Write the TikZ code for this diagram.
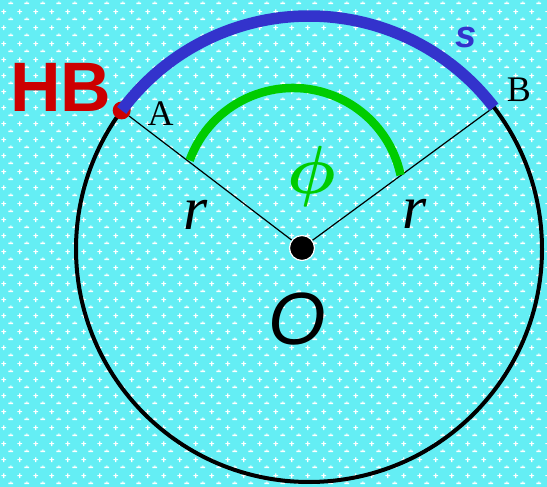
\RequirePackage{fix-cm}
\documentclass[tikz,border=0pt]{standalone}
\usepackage{fontspec}
\usepackage{amsmath}
\newfontfamily\arialf{Liberation Sans}
\newfontfamily\timesf{Liberation Serif}
\usepackage{tikz}
\usetikzlibrary{patterns.meta}
\definecolor{sfondo}{RGB}{100,238,244}
\definecolor{arcoblu}{RGB}{51,51,204}
\definecolor{verde}{RGB}{0,204,0}
\definecolor{rosso}{RGB}{204,0,0}
% trama dello sfondo
\tikzdeclarepattern{
	name=puntini,
	type=uncolored,
	bounding box={(0pt,0pt) and (16pt,16pt)},
	tile size={(16pt,16pt)},
	code={
		\fill (2.5pt,11.5pt) rectangle (7.5pt,12.7pt);
		\fill (4.4pt,9.5pt) rectangle (5.6pt,14.5pt);
		\fill (10pt,3pt) rectangle (15pt,4.6pt);
		\fill (11.5pt,4.6pt) rectangle (13.5pt,5.6pt);
	}
}
\tikzset{
	% cerchio
	cerchio/.style={line width=4pt, black},
	% arco s
	arcos/.style={line width=11.5pt, arcoblu},
	% angolo al centro
	angolo/.style={line width=8.5pt, verde},
	% raggio
	raggio/.style={line width=1.2pt, black},
	% punti
	punto/.style={circle, inner sep=0pt, minimum size=#1},
	% etichette
	lettera/.style={inner sep=0pt, font=\timesf\fontsize{36}{36}\selectfont},
	variabile/.style={inner sep=0pt, font=\timesf\itshape\fontsize{62}{62}\selectfont},
}

\begin{document}
\begin{tikzpicture}[x=1pt, y=1pt]
    \useasboundingbox (0,0) rectangle (547,487);
    % sfondo
    \fill[sfondo] (0,0) rectangle (547,487);
    \fill[pattern=puntini, pattern color=white] (0,0) rectangle (547,487);
    % cerchio e punti
    \coordinate (C) at (309,238);
    \draw[cerchio] (C) circle[radius=233];
    \path (C) ++(143.5:233) coordinate (A);
    \path (C) ++(37.5:233) coordinate (B);
    \node[punto=18pt, fill=rosso] (ptA) at (A) {};
    \node[punto=25pt, fill=black, draw=white, line width=1.2pt] (ctr) at (302,239) {};
    % raggi
    \draw[raggio] (ctr) -- (ptA);
    \draw[raggio] (ctr) -- (B);
    % arco s
    \draw[arcos] (A) arc[start angle=143.5, end angle=37.5, radius=233];
    % angolo
    \draw[angolo] (293,289) ++(160:110) arc[start angle=160, end angle=12, radius=110];
    % etichette
    \node[inner sep=0pt, text=rosso, font=\arialf\bfseries\fontsize{70}{70}\selectfont] (hb) at (61,399.5) {HB};
    \node[lettera] (lA) at (160.5,373) {A};
    \node[lettera] (lB) at (519,397) {B};
    \node[variabile] (r1) at (196,272) {r};
    \node[variabile] (r2) at (415,273) {r};
    \node[inner sep=0pt, text=verde, font=\fontsize{68}{68}\selectfont] (phi) at (312,310.5) {$\boldsymbol{\phi}$};
    \node[inner sep=0pt, text=arcoblu, font=\arialf\bfseries\itshape\fontsize{38}{38}\selectfont] (ls) at (466,450) {s};
    \node[inner sep=0pt, font=\arialf\itshape\fontsize{74}{74}\selectfont] (lO) at (297.5,167.5) {O};
  \end{tikzpicture}
\end{document}
